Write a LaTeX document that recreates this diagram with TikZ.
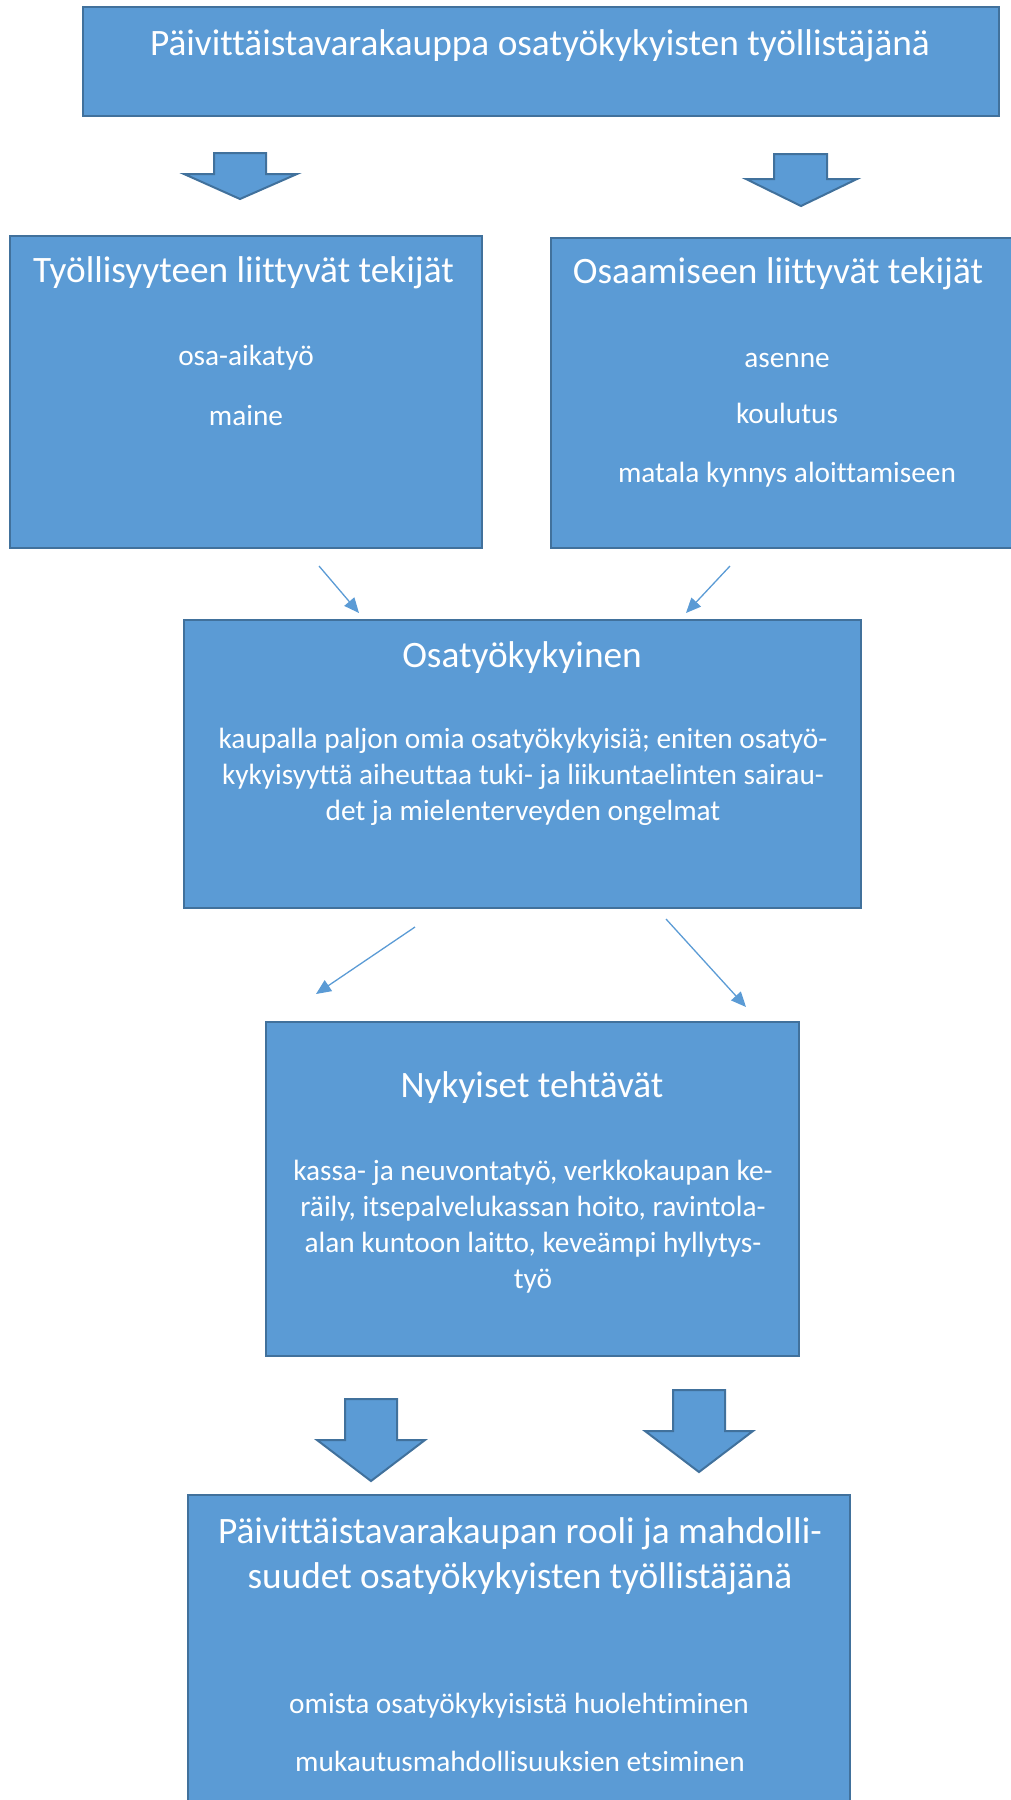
\documentclass[tikz,border=0pt]{standalone}
\usepackage{fontspec}
\setmainfont{Carlito}[Ligatures={NoCommon}, Contextuals={NoAlternate}]
\usetikzlibrary{arrows.meta}
\definecolor{boxfill}{HTML}{5B9BD5}
\definecolor{boxline}{HTML}{41719C}
\begin{document}
\begin{tikzpicture}[x=1pt,y=-1pt,
  box/.style={draw=boxline, line width=2.3pt, fill=boxfill, rectangle, outer sep=0pt, inner sep=0pt, anchor=north west},
  head/.style={text=white, font=\fontsize{37.3}{45.5}\selectfont, anchor=base, inner sep=0pt},
  body/.style={text=white, font=\fontsize{29.3}{36}\selectfont, anchor=base, inner sep=0pt},
  thinarrow/.style={draw=boxfill, line width=1.3pt, -{Triangle[length=15pt,width=13pt]}},
  blockarrow/.style={draw=boxline, line width=2pt, fill=boxfill, line join=miter}]
\useasboundingbox (0,0) rectangle (1011,1800);
\begin{scope}
\clip (0,0) rectangle (1011,1800);
% boxes
\node[box, minimum width=916pt, minimum height=109pt] (topbox) at (83,7) {};
\node[box, minimum width=472pt, minimum height=312pt] (leftbox) at (10,236) {};
\node[box, minimum width=472pt, minimum height=310pt] (rightbox) at (551,238) {};
\node[box, minimum width=677pt, minimum height=288pt] (midbox) at (184,620) {};
\node[box, minimum width=533pt, minimum height=334pt] (taskbox) at (266,1022) {};
\node[box, minimum width=662pt, minimum height=360pt] (rolebox) at (188,1495) {};
% texts
\node[head] (t0) at (540,55) {Päivittäistavarakauppa osatyökykyisten työllistäjänä};
\node[head] (l0) at (243.5,282) {Työllisyyteen liittyvät tekijät};
\node[body] (l1) at (246,365) {osa-aikatyö};
\node[body] (l2) at (246,425) {maine};
\node[head] (r0) at (778,283) {Osaamiseen liittyvät tekijät};
\node[body] (r1) at (787,367) {asenne};
\node[body] (r2) at (787,423) {koulutus};
\node[body] (r3) at (787,482) {matala kynnys aloittamiseen};
\node[head] (m0) at (522,667) {Osatyökykyinen};
\node[body] (m1) at (523,748) {kaupalla paljon omia osatyökykyisiä; eniten osatyö-};
\node[body] (m2) at (523,784) {kykyisyyttä aiheuttaa tuki- ja liikuntaelinten sairau-};
\node[body] (m3) at (523,820) {det ja mielenterveyden ongelmat};
\node[head] (n0) at (532,1097) {Nykyiset tehtävät};
\node[body] (n1) at (533,1180) {kassa- ja neuvontatyö, verkkokaupan ke-};
\node[body] (n2) at (533,1216) {räily, itsepalvelukassan hoito, ravintola-};
\node[body] (n3) at (533,1252) {alan kuntoon laitto, keveämpi hyllytys-};
\node[body] (n4) at (533,1288) {työ};
\node[head] (p0) at (520,1543) {Päivittäistavarakaupan rooli ja mahdolli-};
\node[head] (p1) at (520,1588) {suudet osatyökykyisten työllistäjänä};
\node[body] (p2) at (519,1713) {omista osatyökykyisistä huolehtiminen};
\node[body] (p3) at (520,1771) {mukautusmahdollisuuksien etsiminen};
% block arrows
\draw[blockarrow] (214,153) -- (266,153) -- (266,174) -- (297,174) -- (240,199) -- (184,174) -- (214,174) -- cycle;
\draw[blockarrow] (774,154) -- (827,154) -- (827,179) -- (857,179) -- (801,206) -- (746,179) -- (774,179) -- cycle;
\draw[blockarrow] (345,1399) -- (397,1399) -- (397,1440) -- (425,1440) -- (371,1481) -- (317,1440) -- (345,1440) -- cycle;
\draw[blockarrow] (673,1390) -- (725,1390) -- (725,1431) -- (753,1431) -- (699,1472) -- (645,1431) -- (673,1431) -- cycle;
% thin arrows
\coordinate (a1s) at (319,566); \coordinate (a1e) at (359,613);
\coordinate (a2s) at (730,566); \coordinate (a2e) at (686,613);
\coordinate (a3s) at (415,927); \coordinate (a3e) at (316,994);
\coordinate (a4s) at (666,919); \coordinate (a4e) at (746,1007);
\draw[thinarrow] (a1s) -- (a1e);
\draw[thinarrow] (a2s) -- (a2e);
\draw[thinarrow] (a3s) -- (a3e);
\draw[thinarrow] (a4s) -- (a4e);
\end{scope}
\end{tikzpicture}
\end{document}
